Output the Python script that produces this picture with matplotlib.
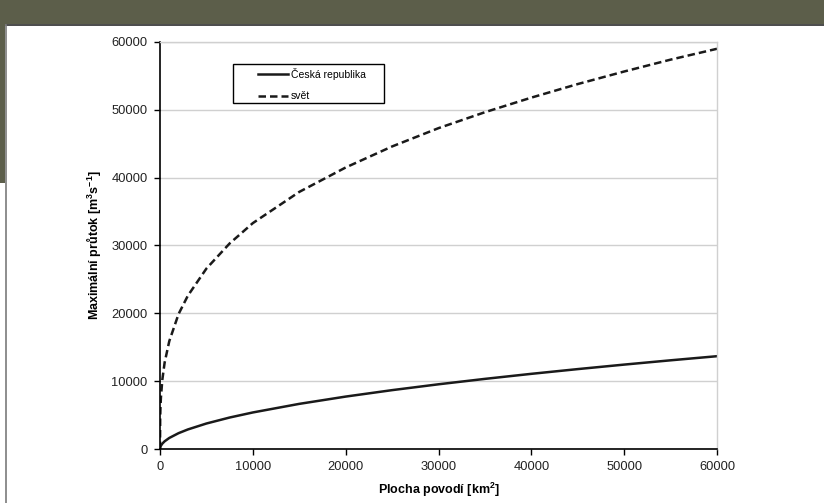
import matplotlib
matplotlib.use("Agg")
import matplotlib.pyplot as plt
from matplotlib.patches import Rectangle
from matplotlib.lines import Line2D

plt.rcParams['font.family'] = ['Liberation Sans', 'DejaVu Sans']

# Plocha povodí [km2]
area = [0, 20, 50, 100, 250, 500, 1000, 2000, 3000, 5000, 7500, 10000, 15000,
        20000, 25000, 30000, 35000, 40000, 45000, 50000, 55000, 60000]
# Česká republika [m3/s]
q_cz = [0, 213, 343, 491, 791, 1135, 1628, 2334, 2881, 3758, 4640, 5387, 6653,
        7727, 8677, 9540, 10337, 11081, 11779, 12443, 13075, 13680]
# svět [m3/s]
q_world = [0, 4550, 6100, 7600, 10200, 12750, 15900, 19900, 22600, 26600, 30300,
           33300, 37900, 41500, 44600, 47300, 49650, 51800, 53800, 55650, 57400, 59000]

xticks = [0, 10000, 20000, 30000, 40000, 50000, 60000]
yticks = [0, 10000, 20000, 30000, 40000, 50000, 60000]

W, H = 824, 503
fig = plt.figure(figsize=(W / 100, H / 100), dpi=100, facecolor='white')

olive = '#5c5e4a'
fig.patches.append(Rectangle((0, 1 - 24 / H), 1, 24 / H, transform=fig.transFigure,
                             facecolor=olive, edgecolor='none', zorder=0))
fig.patches.append(Rectangle((0, 1 - 183 / H), 5 / W, 183 / H, transform=fig.transFigure,
                             facecolor=olive, edgecolor='none', zorder=0))
fig.add_artist(Line2D([5.5 / W, 1], [1 - 24.5 / H, 1 - 24.5 / H], transform=fig.transFigure,
                      color='#2b2b2b', lw=1.2))
fig.add_artist(Line2D([5.5 / W, 5.5 / W], [0, 1 - 24.5 / H], transform=fig.transFigure,
                      color='#7a7a7a', lw=1.2))

ax_l, ax_r, ax_t, ax_b = 160, 717, 42, 449
ax = fig.add_axes([ax_l / W, 1 - ax_b / H, (ax_r - ax_l) / W, (ax_b - ax_t) / H])
ax.plot(area, q_cz, color='#1a1a1a', lw=1.8, label='Česká republika')
ax.plot(area, q_world, color='#1a1a1a', lw=1.8, ls=(0, (3, 1.6)), label='svět')

ax.set_xlim(0, 60000)
ax.set_ylim(0, 60000)
ax.set_xticks(xticks)
ax.set_yticks(yticks)
ax.set_xticklabels([str(v) for v in xticks])
ax.set_yticklabels([str(v) for v in yticks])
ax.tick_params(direction='out', length=4, width=1, colors='black', labelsize=9.3,
               labelcolor='#222222', pad=5)
ax.yaxis.grid(True, color='#d0d0d0', lw=1)
ax.set_axisbelow(True)
for s in ['left', 'bottom']:
    ax.spines[s].set_color('black')
    ax.spines[s].set_linewidth(1.2)
for s in ['top', 'right']:
    ax.spines[s].set_color('#d0d0d0')
    ax.spines[s].set_linewidth(1)

ax.set_xlabel('Plocha povodí [km$^\\mathregular{2}$]', fontsize=9, fontweight='bold', labelpad=5)
ax.set_ylabel('Maximální průtok [m$^\\mathregular{3}$s$^\\mathregular{-1}$]', fontsize=9,
              fontweight='bold', labelpad=6)

def axx(px):
    return (px - ax_l) / (ax_r - ax_l)

def axy(py):
    return 1 - (py - ax_t) / (ax_b - ax_t)

# legend box
ax.add_patch(Rectangle((axx(233), axy(103)), axx(384) - axx(233), axy(64) - axy(103),
                       transform=ax.transAxes, facecolor='white', edgecolor='black',
                       lw=1, zorder=4))
leg = ax.legend(loc='upper left', bbox_to_anchor=(axx(258), axy(68)),
                fontsize=7.5, frameon=False, handlelength=2.9, handletextpad=0.25,
                borderpad=0, labelspacing=1.1, borderaxespad=0)
leg.set_zorder(5)

fig.savefig('out.png', dpi=100, facecolor='white')
